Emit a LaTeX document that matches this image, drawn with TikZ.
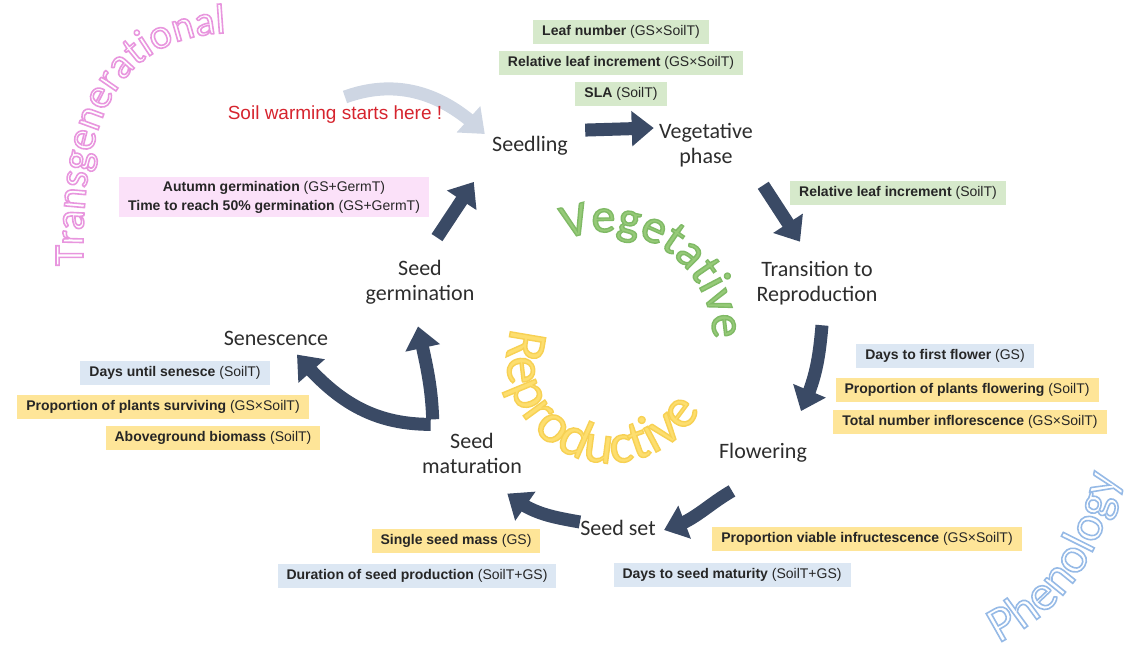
\documentclass[tikz,border=0pt]{standalone}
\usepackage{fontspec}
\setmainfont{Carlito}
\newfontfamily\traitfont{Liberation Sans}
\usetikzlibrary{arrows.meta,bending,decorations.text,positioning}

\definecolor{cycleblue}{RGB}{58,74,101}
\definecolor{warmgrey}{RGB}{206,214,227}
\definecolor{warmred}{RGB}{214,36,46}
\definecolor{stagegrey}{RGB}{45,45,45}
\definecolor{leafgreen}{RGB}{214,233,203}
\definecolor{germpink}{RGB}{251,225,249}
\definecolor{dayblue}{RGB}{220,231,243}
\definecolor{reproyellow}{RGB}{254,229,152}
\definecolor{vegtext}{RGB}{150,202,120}
\definecolor{reprotext}{RGB}{253,222,110}
\definecolor{transpink}{RGB}{232,150,222}
\definecolor{phenoblue}{RGB}{150,186,230}

\newcommand\traitlabel[2]{\textbf{#1} (#2)}
\newcommand\outlinetext{\special{pdf:literal direct 1 Tr 0.8 w}}
\newcommand\vegedge{\special{pdf:literal direct 2 Tr 0.7 w 0.50 0.73 0.40 RG}}
\newcommand\reproedge{\special{pdf:literal direct 2 Tr 0.7 w 0.97 0.82 0.33 RG}}

\tikzset{
  stage/.style={font=\fontsize{11}{12.5}\selectfont, text=stagegrey, align=center, inner sep=2pt},
  trait/.style={font=\traitfont\fontsize{7}{9.5}\selectfont, text=black!85, align=center,
    inner xsep=4.5pt, inner ysep=2pt, minimum height=12pt},
  leafbox/.style={trait, fill=leafgreen},
  germbox/.style={trait, fill=germpink},
  daybox/.style={trait, fill=dayblue},
  reprobox/.style={trait, fill=reproyellow},
  cyc/.style={draw=cycleblue, line width=6.5pt, -{Triangle[length=11pt,width=17pt]}},
  warmarrow/.style={draw=warmgrey, line width=6.5pt, -{Triangle[length=11pt,width=17pt]}},
}

\begin{document}
\begin{tikzpicture}[x=0.5pt,y=-0.5pt]
\useasboundingbox (0,0) rectangle (1141,646);

% life cycle stages
\node[stage] (seedling) at (530,146) {Seedling};
\node[stage] (veg) at (706,145) {Vegetative\\phase};
\node[stage] (trans) at (817,283) {Transition to\\Reproduction};
\node[stage] (flow) at (763,453) {Flowering};
\node[stage] (seedset) at (618,528) {Seed set};
\node[stage] (matur) at (472,453) {Seed\\maturation};
\node[stage] (senes) at (276,338) {Senescence};
\node[stage] (germ) at (420,282) {Seed\\germination};

% soil warming
\coordinate (warmstart) at (345,97);
\draw[warmarrow] (warmstart) to[out=20,in=135] ([shift={(-3,-12)}]seedling.west);
\node[font=\traitfont\fontsize{9.5}{11}\selectfont, text=warmred] (warm) at (335,115) {Soil warming starts here !};

% cycle arrows
\draw[cyc] ([shift={(13,-2)}]seedling.north east) -- ([shift={(-1,-17)}]veg.west);
\draw[cyc] ([shift={(6,14)}]veg.south east) -- ([shift={(-17,-15)}]trans.north);
\draw[cyc] ([shift={(5,16)}]trans.south) to[out=-95,in=65] ([shift={(38,-28)}]flow.north);
\draw[cyc] ([shift={(-31,24)}]flow.south) to[out=-150,in=15] ([shift={(4,2)}]seedset.east);
\draw[cyc] ([shift={(4,-6)}]seedset.west) to[out=170,in=-40] ([shift={(-19,16)}]matur.south east);
\draw[cyc] ([shift={(13,-4)}]matur.north west) to[out=180,in=-50] ([shift={(21,5)}]senes.south);
\draw[cyc] ([shift={(15,-9)}]matur.north west) to[out=92,in=-78] ([shift={(-2,18)}]germ.south);
\draw[cyc] ([shift={(17,-18)}]germ.north) -- ([shift={(-14,22)}]seedling.south west);

% traits
\node[leafbox] (leafno) at (621,32) {\traitlabel{Leaf number}{GS×SoilT}};
\node[leafbox, below=3pt of leafno] (relleaf) {\traitlabel{Relative leaf increment}{GS×SoilT}};
\node[leafbox, below=3pt of relleaf] (sla) {\traitlabel{SLA}{SoilT}};
\node[leafbox] (relleafsoil) at (898,193) {\traitlabel{Relative leaf increment}{SoilT}};
\node[germbox] (germtraits) at (274,197) {\traitlabel{Autumn germination}{GS+GermT}\\\traitlabel{Time to reach 50\% germination}{GS+GermT}};
\node[daybox] (flowdays) at (945,356) {\traitlabel{Days to first flower}{GS}};
\node[reprobox] (flowprop) at (967,390) {\traitlabel{Proportion of plants flowering}{SoilT}};
\node[reprobox] (inflor) at (970,422) {\traitlabel{Total number inflorescence}{GS×SoilT}};
\node[daybox] (senesdays) at (175,373) {\traitlabel{Days until senesce}{SoilT}};
\node[reprobox] (survive) at (163,407) {\traitlabel{Proportion of plants surviving}{GS×SoilT}};
\node[reprobox] (biomass) at (213,438) {\traitlabel{Aboveground biomass}{SoilT}};
\node[reprobox] (seedmass) at (456,541) {\traitlabel{Single seed mass}{GS}};
\node[daybox] (seedprod) at (417,576) {\traitlabel{Duration of seed production}{SoilT+GS}};
\node[reprobox] (infruct) at (867,539) {\traitlabel{Proportion viable infructescence}{GS×SoilT}};
\node[daybox] (maturity) at (732,575) {\traitlabel{Days to seed maturity}{SoilT+GS}};

% phase words
\path[decorate, decoration={text along path, text align=center,
  text={|\color{vegtext}\vegedge\fontsize{24}{24}\selectfont|Vegetative}}]
  (605,340) ++(-120:108) arc[start angle=-120, end angle=8, radius=108];
\path[decorate, decoration={text along path, text align=center,
  text={|\color{reprotext}\reproedge\fontsize{28}{28}\selectfont|Reproductive}}]
  (610,360) ++(-155:103) arc[start angle=-155, end angle=-338, radius=103];
\path[decorate, decoration={text along path, text align=center,
  text={|\outlinetext\color{transpink}\fontsize{21}{21}\selectfont|Transgenerational}}]
  (84,292) -- (83,262) .. controls (82,140) and (105,40) .. (224,33) -- (252,29);
\path[decorate, decoration={text along path, text align=center,
  text={|\outlinetext\color{phenoblue}\fontsize{25}{25}\selectfont|Phenology}}]
  (974,654) .. controls (1050,624) and (1106,571) .. (1122,449);
\end{tikzpicture}
\end{document}
